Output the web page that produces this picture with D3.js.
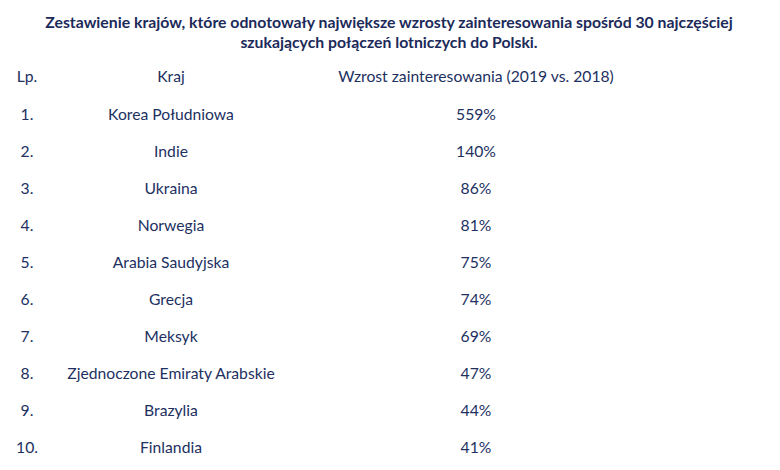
<!DOCTYPE html>
<html><head><meta charset="utf-8">
<script src="https://cdn.jsdelivr.net/npm/d3@7"></script>
<style>body{margin:0;background:#fff}text{font-family:Lato,sans-serif}</style>
</head><body>
<svg id="chart" width="780" height="470"></svg>
<script>
const titleLines = ["Zestawienie krajów, które odnotowały największe wzrosty zainteresowania spośród 30 najczęściej",
                    "szukających połączeń lotniczych do Polski."];
const headers = ["Lp.", "Kraj", "Wzrost zainteresowania (2019 vs. 2018)"];
const countries = ["Korea Południowa","Indie","Ukraina","Norwegia","Arabia Saudyjska","Grecja","Meksyk","Zjednoczone Emiraty Arabskie","Brazylia","Finlandia"];
const growth = [559,140,86,81,75,74,69,47,44,41];

const svg = d3.select('#chart');
const ink = "#22305f";

svg.selectAll('text.title').data(titleLines).join('text')
    .attr('class','title')
    .attr('x', 389).attr('y', (d, i) => 28 + i * 20)
    .attr('text-anchor','middle')
    .style('font-size','15.8px').style('font-weight','bold')
    .attr('fill', "#1c2a5a")
    .text(d => d);

const colPos = {"Lp.": 27, "Kraj": 171, "Wzrost zainteresowania (2019 vs. 2018)": 476};

svg.selectAll('text.head').data(headers).join('text')
    .attr('class','head')
    .attr('x', d => colPos[d]).attr('y', 82)
    .attr('text-anchor','middle')
    .style('font-size','15.7px').attr('fill', ink)
    .text(d => d);

const y = d3.scaleBand().domain(d3.range(countries.length)).range([96, 466]);

const rows = svg.selectAll('g.row').data(countries).join('g')
    .attr('class','row')
    .attr('transform', (d, i) => `translate(0,${y(i) + y.bandwidth() / 2 + 5})`);

rows.append('text').attr('x', colPos["Lp."]).attr('text-anchor','middle')
    .style('font-size','15.7px').attr('fill', ink).text((d, i) => (i + 1) + '.');
rows.append('text').attr('x', colPos["Kraj"]).attr('text-anchor','middle')
    .style('font-size','15.7px').attr('fill', ink).text(d => d);
rows.append('text').attr('x', colPos["Wzrost zainteresowania (2019 vs. 2018)"]).attr('text-anchor','middle')
    .style('font-size','15.7px').attr('fill', ink).text((d, i) => growth[i] + '%');
</script>
</body></html>
